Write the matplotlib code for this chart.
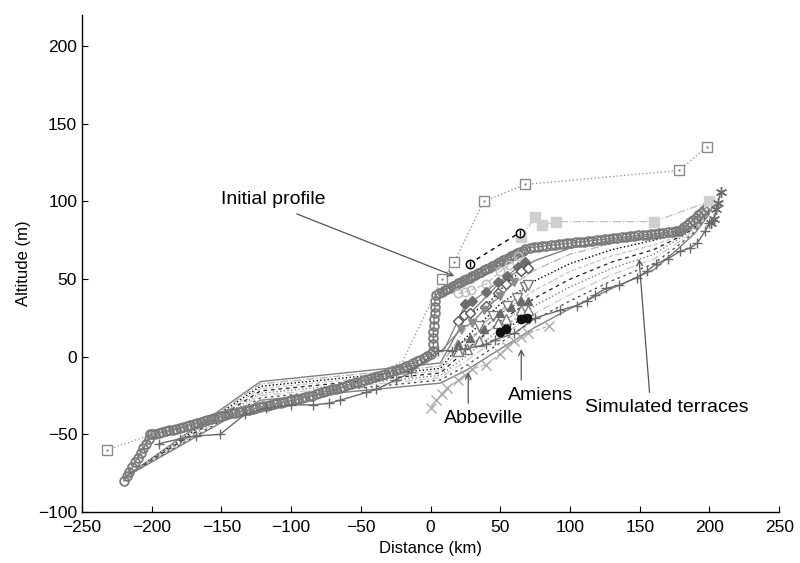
import matplotlib
matplotlib.use("Agg")
import matplotlib.pyplot as plt

plt.rcParams['font.family'] = ['Liberation Sans', 'DejaVu Sans']

# ---------------- data ----------------
# Initial profile (model initial topography)
init_pts = [
    (-220, -80), (-218, -77), (-216, -74), (-214, -71), (-212, -68), (-210, -65),
    (-208, -62), (-206, -59), (-204, -56), (-202, -53), (-201, -50),
    (-200, -50), (-197.5, -49.5), (-195, -49), (-192.5, -48.5), (-190, -48),
    (-187.5, -47.5), (-185, -47), (-182.5, -46.5), (-180, -46), (-177.5, -45.3),
    (-175, -44.5), (-172.5, -43.8), (-170, -43), (-167.5, -42.5), (-165, -42),
    (-162.5, -41.3), (-160, -40.5), (-157.5, -40), (-155, -39.5), (-152.5, -38.8),
    (-150, -38), (-147.5, -37.5), (-145, -37), (-142.5, -36.5), (-140, -36),
    (-137.5, -35.5), (-135, -35), (-132.5, -34.5), (-130, -34), (-127.5, -33.5),
    (-125, -33), (-122.5, -32.5), (-120, -32), (-117.5, -31.5), (-115, -31),
    (-112.5, -30.5), (-110, -30), (-107.5, -29.5), (-105, -29), (-102.5, -28.5),
    (-100, -28), (-97.5, -27.5), (-95, -27), (-92.5, -26.5), (-90, -26),
    (-87.5, -25.5), (-85, -25), (-82.5, -24.3), (-80, -23.5), (-77.5, -22.8),
    (-75, -22), (-72.5, -21.5), (-70, -21), (-67.5, -20.5), (-65, -20),
    (-62.5, -19.3), (-60, -18.5), (-57.5, -17.8), (-55, -17), (-52.5, -16.5),
    (-50, -16), (-47.5, -15.3), (-45, -14.5), (-42.5, -13.8), (-40, -13),
    (-37.5, -12.3), (-35, -11.5), (-32.5, -10.8), (-30, -10), (-27.5, -9.3),
    (-25, -8.5), (-22.5, -7.8), (-20, -7), (-17.5, -6), (-15, -5), (-12.5, -4),
    (-10, -3), (-7.5, -1.8), (-5, -0.5), (-2.5, 0.8), (0, 2),
    (2, 4), (2, 8), (2, 12), (2, 16), (2.5, 20), (2.5, 24), (3, 28), (3, 32), (3, 36),
    (4, 40), (6, 41), (8, 41.8), (10, 42.8), (12, 43.7), (14, 44.6), (16, 45.5),
    (18, 46.5), (20, 47.4), (22, 48.3), (24, 49.2), (26, 50.1), (28, 51), (30, 52),
    (32, 52.9), (34, 53.8), (36, 54.7), (38, 55.6), (40, 56.5), (42, 57.4),
    (44, 58.3), (46, 59.2), (48, 60.2), (50, 61.1), (52, 62), (54, 62.9), (56, 63.8),
    (58, 64.7), (60, 65.6), (62, 66.6), (64, 67.5), (66, 68.4), (68, 69.5),
    (71, 70.3), (74, 70.6), (77, 70.9), (80, 71.2), (83, 71.5), (86, 71.8),
    (89, 72.1), (92, 72.4), (95, 72.7), (98, 73), (101, 73.3), (104, 73.6),
    (107, 73.9), (110, 74.2), (113, 74.5), (116, 74.8), (119, 75.1), (122, 75.4),
    (125, 75.7), (128, 76), (131, 76.3), (134, 76.6), (137, 76.9), (140, 77.2),
    (143, 77.5), (146, 77.8), (149, 78.1), (152, 78.4), (155, 78.7), (158, 79),
    (161, 79.3), (164, 79.6), (167, 79.9), (170, 80.2), (173, 80.5), (176, 80.8),
    (178, 81), (180, 82), (182, 83.5), (184, 85), (186, 86.5), (188, 88),
    (190, 89.5), (192, 91), (194, 92.5), (196, 94.5), (198, 96.5),
]
init_x = [p[0] for p in init_pts]
init_y = [p[1] for p in init_pts]

# Simulated terraces (x nodes shared, one y list per simulated profile)
sim_x = [-220, -122, 7, 25, 50, 75, 100, 130, 160, 178, 190, 200]
sim_y1 = [-78, -16, -4, 25, 48, 62, 70, 75, 78, 80, 85, 95]
sim_y2 = [-78, -17.5, -6, 18, 41, 56, 66, 73, 77, 80, 85, 95]
sim_y3 = [-78, -19, -7.5, 12, 34, 49, 60, 69, 75, 79, 84, 95]
sim_y4 = [-78, -20.5, -9, 8, 28, 43, 55, 65, 72, 78, 84, 95]
sim_y5 = [-78, -22, -10.5, 4, 23, 38, 50, 61, 69, 77, 83, 94]
sim_y6 = [-78, -23.5, -12, 0, 18, 33, 45, 57, 66, 76, 83, 94]
sim_y7 = [-78, -25, -13.5, -3, 13, 28, 40, 53, 63, 74, 82, 93]
sim_y8 = [-78, -26.5, -15, -6, 9, 24, 36, 49, 60, 72, 81, 93]
sim_y9 = [-78, -28, -17, -9, 5, 19, 31, 44, 56, 70, 80, 92]

# Observed terrace series
sq_x = [-232, -200, -150, -100, -50, -20, 8, 17, 38, 68, 178, 198]
sq_y = [-60, -50, -38, -28, -16, -3, 50, 61, 100, 111, 120, 135]
sq_mark = [0, 6, 7, 8, 9, 10, 11]

lsq_x = [65, 75, 80, 90, 160, 200]
lsq_y = [77, 90, 85, 87, 87, 100]

blk_x = [28, 64]
blk_y = [60, 80]

lc_x = [20, 25, 29, 40, 50, 56, 63]
lc_y = [41, 42, 43, 47, 55, 59, 65]

fd_x = [10, 25, 30, 40, 48, 55, 63, 68]
fd_y = [5, 34, 36, 42, 48, 52, 58, 61]

od_x = [20, 24, 28, 40, 48, 54, 65, 70]
od_y = [23, 27, 28, 33, 41, 47, 55, 57]

ov_x = [35, 45, 55, 62, 68, 70]
ov_y = [20, 26, 33, 38, 45, 46]

fv_x = [8, 22, 30, 38, 50, 60]
fv_y = [4, 18, 22, 30, 39, 48]

fu_x = [20, 28, 38, 50, 58, 65, 70]
fu_y = [8, 12, 18, 28, 32, 36, 36]

ou_x = [20, 26, 35, 48, 54, 65, 70]
ou_y = [4, 5, 10, 22, 24, 30, 30]

bc_x = [50, 54, 65, 69]
bc_y = [16, 18, 24, 25]

xs_x = [0, 4, 8, 12, 20, 25, 30, 40, 50, 55, 60, 65, 70, 85]
xs_y = [-33, -28, -24, -20, -15, -12, -8, -5, 2, 6, 10, 13, 15, 20]

pl_x = [-195, -180, -168, -151, -133, -118, -100, -84, -73, -65, -46, -39, -25, -14,
        5, 15, 25, 40, 46, 60, 75, 93, 105, 112, 118, 126, 135, 148, 155, 162, 170,
        179, 186, 191, 197, 200]
pl_y = [-56, -53, -51, -50, -37, -33, -31, -31, -30, -28, -23, -21, -15, -10,
        4, 4, 5, 8, 11, 15, 25, 30, 33, 36, 40, 44, 46, 51, 55, 60, 63,
        68, 70, 73, 81, 86]

st_x = [201, 203, 205, 206, 208]
st_y = [86, 89, 95, 99, 106]

xticks = [-250, -200, -150, -100, -50, 0, 50, 100, 150, 200, 250]
yticks = [-100, -50, 0, 50, 100, 150, 200]

# ---------------- plot ----------------
fig = plt.figure(figsize=(8.0, 5.63), dpi=100)
ax = fig.add_axes([0.1025, 0.0906, 0.8715, 0.8824])

sim_styles = [
    (sim_y1, '#808080', '-', 1.0),
    (sim_y2, '#b0b0b0', '-.', 0.9),
    (sim_y3, '#000000', ':', 1.0),
    (sim_y4, '#c4c4c4', '--', 0.9),
    (sim_y5, '#202020', (0, (3, 3)), 0.9),
    (sim_y6, '#808080', ':', 1.0),
    (sim_y7, '#c8c8c8', '-.', 0.9),
    (sim_y8, '#404040', (0, (2, 3)), 0.9),
    (sim_y9, '#808080', '-', 1.0),
]
for ys, c, ls, lw in sim_styles:
    ax.plot(sim_x, ys, color=c, linestyle=ls, linewidth=lw, zorder=2)

# initial profile
ax.plot(init_x, init_y, color='#7f7f7f', linewidth=1.0, marker='o', markersize=6.3,
        markerfacecolor='none', markeredgecolor='#7a7a7a', markeredgewidth=1.3, zorder=3)

# open squares, dotted
ax.plot(sq_x, sq_y, color='#9a9a9a', linestyle=':', linewidth=1.0, marker='s',
        markersize=7, markerfacecolor='white', markeredgecolor='#8a8a8a',
        markeredgewidth=1.0, markevery=sq_mark, zorder=4)
ax.plot([sq_x[i] for i in sq_mark], [sq_y[i] for i in sq_mark], linestyle='none',
        marker='.', markersize=1.5, color='#8a8a8a', zorder=5)

# light filled squares, dash-dot
ax.plot(lsq_x, lsq_y, color='#c0c0c0', linestyle='-.', linewidth=0.9, marker='s',
        markersize=7, markerfacecolor='#cfcfcf', markeredgecolor='#cfcfcf', zorder=4)

# black circles, dashed
ax.plot(blk_x, blk_y, color='#000000', linestyle=(0, (3, 3)), linewidth=1.0, marker='o',
        markersize=6, markerfacecolor='white', markeredgecolor='#000000',
        markeredgewidth=1.1, zorder=5)
ax.plot(blk_x, blk_y, linestyle='none', marker='|', markersize=4,
        markeredgecolor='#000000', markeredgewidth=1.0, zorder=6)

# light circles, dashed
ax.plot(lc_x, lc_y, color='#bdbdbd', linestyle='--', linewidth=0.9, marker='o',
        markersize=6, markerfacecolor='none', markeredgecolor='#bdbdbd',
        markeredgewidth=1.1, zorder=4)

# filled diamonds, solid
ax.plot(fd_x, fd_y, color='#808080', linestyle='-', linewidth=0.9, marker='D',
        markersize=5, markerfacecolor='#6e6e6e', markeredgecolor='#6e6e6e',
        markevery=list(range(1, len(fd_x))), zorder=4)

# open diamonds, dotted black
ax.plot(od_x, od_y, color='#000000', linestyle=':', linewidth=1.0, marker='D',
        markersize=5.5, markerfacecolor='white', markeredgecolor='#555555',
        markeredgewidth=1.0, zorder=4)

# open down triangles
ax.plot(ov_x, ov_y, color='#9a9a9a', linestyle='-', linewidth=0.8, marker='v',
        markersize=7, markerfacecolor='white', markeredgecolor='#7a7a7a',
        markeredgewidth=1.0, zorder=4)

# filled down triangles
ax.plot(fv_x, fv_y, color='#808080', linestyle='-', linewidth=0.9, marker='v',
        markersize=6, markerfacecolor='#8c8c8c', markeredgecolor='#8c8c8c',
        markevery=list(range(1, len(fv_x))), zorder=4)

# filled up triangles
ax.plot(fu_x, fu_y, color='#707070', linestyle='--', linewidth=0.8, marker='^',
        markersize=6, markerfacecolor='#6a6a6a', markeredgecolor='#6a6a6a', zorder=4)

# open up triangles
ax.plot(ou_x, ou_y, color='#a0a0a0', linestyle='-.', linewidth=0.8, marker='^',
        markersize=7, markerfacecolor='white', markeredgecolor='#7a7a7a',
        markeredgewidth=1.0, zorder=4)

# black filled circles
ax.plot(bc_x, bc_y, color='#000000', linestyle=':', linewidth=1.0, marker='o',
        markersize=6, markerfacecolor='#111111', markeredgecolor='#111111', zorder=5)

# light x
ax.plot(xs_x, xs_y, color='#b4b4b4', linestyle='--', linewidth=0.9, marker='x',
        markersize=7, markeredgecolor='#ababab', markeredgewidth=1.0, zorder=4)

# plus series
ax.plot(pl_x, pl_y, color='#6a6a6a', linestyle='-', linewidth=1.0, marker='+',
        markersize=7, markeredgecolor='#6a6a6a', markeredgewidth=1.0, zorder=4)

# asterisks
ax.plot(st_x, st_y, color='#6a6a6a', linestyle='-', linewidth=1.0, marker=(6, 2, 0),
        markersize=8, markeredgecolor='#6a6a6a', markeredgewidth=1.0, zorder=4)

# annotations
arrow_kw = dict(arrowstyle='->', color='#555555', lw=0.9, shrinkA=0, shrinkB=0)
fs_ann = 14
ax.text(-150, 101, 'Initial profile', fontsize=fs_ann, ha='left', va='center', zorder=6)
ax.annotate('', xy=(17, 52), xytext=(-96, 92), arrowprops=arrow_kw, zorder=6)

ax.text(38, -39.5, 'Abbeville', fontsize=fs_ann, ha='center', va='center', zorder=6)
ax.annotate('', xy=(27, -10), xytext=(27, -30), arrowprops=arrow_kw, zorder=6)

ax.text(79, -25, 'Amiens', fontsize=fs_ann, ha='center', va='center', zorder=6)
ax.annotate('', xy=(65, 5), xytext=(65, -15), arrowprops=arrow_kw, zorder=6)

ax.text(169, -33, 'Simulated terraces', fontsize=fs_ann, ha='center', va='center', zorder=6)
ax.annotate('', xy=(149.5, 63), xytext=(157, -23), arrowprops=arrow_kw, zorder=6)

ax.set_xlim(-250, 250)
ax.set_ylim(-100, 220)
ax.set_xticks(xticks)
ax.set_yticks(yticks)
ax.tick_params(direction='in', length=4, labelsize=12.5, width=0.8)
ax.tick_params(axis='x', pad=6)
for s in ['top', 'right']:
    ax.spines[s].set_visible(False)
for s in ['left', 'bottom']:
    ax.spines[s].set_linewidth(1.0)
ax.set_xlabel('Distance (km)', fontsize=12, labelpad=4)
ax.set_ylabel('Altitude (m)', fontsize=12, labelpad=5)

fig.savefig('out.png', dpi=100)
